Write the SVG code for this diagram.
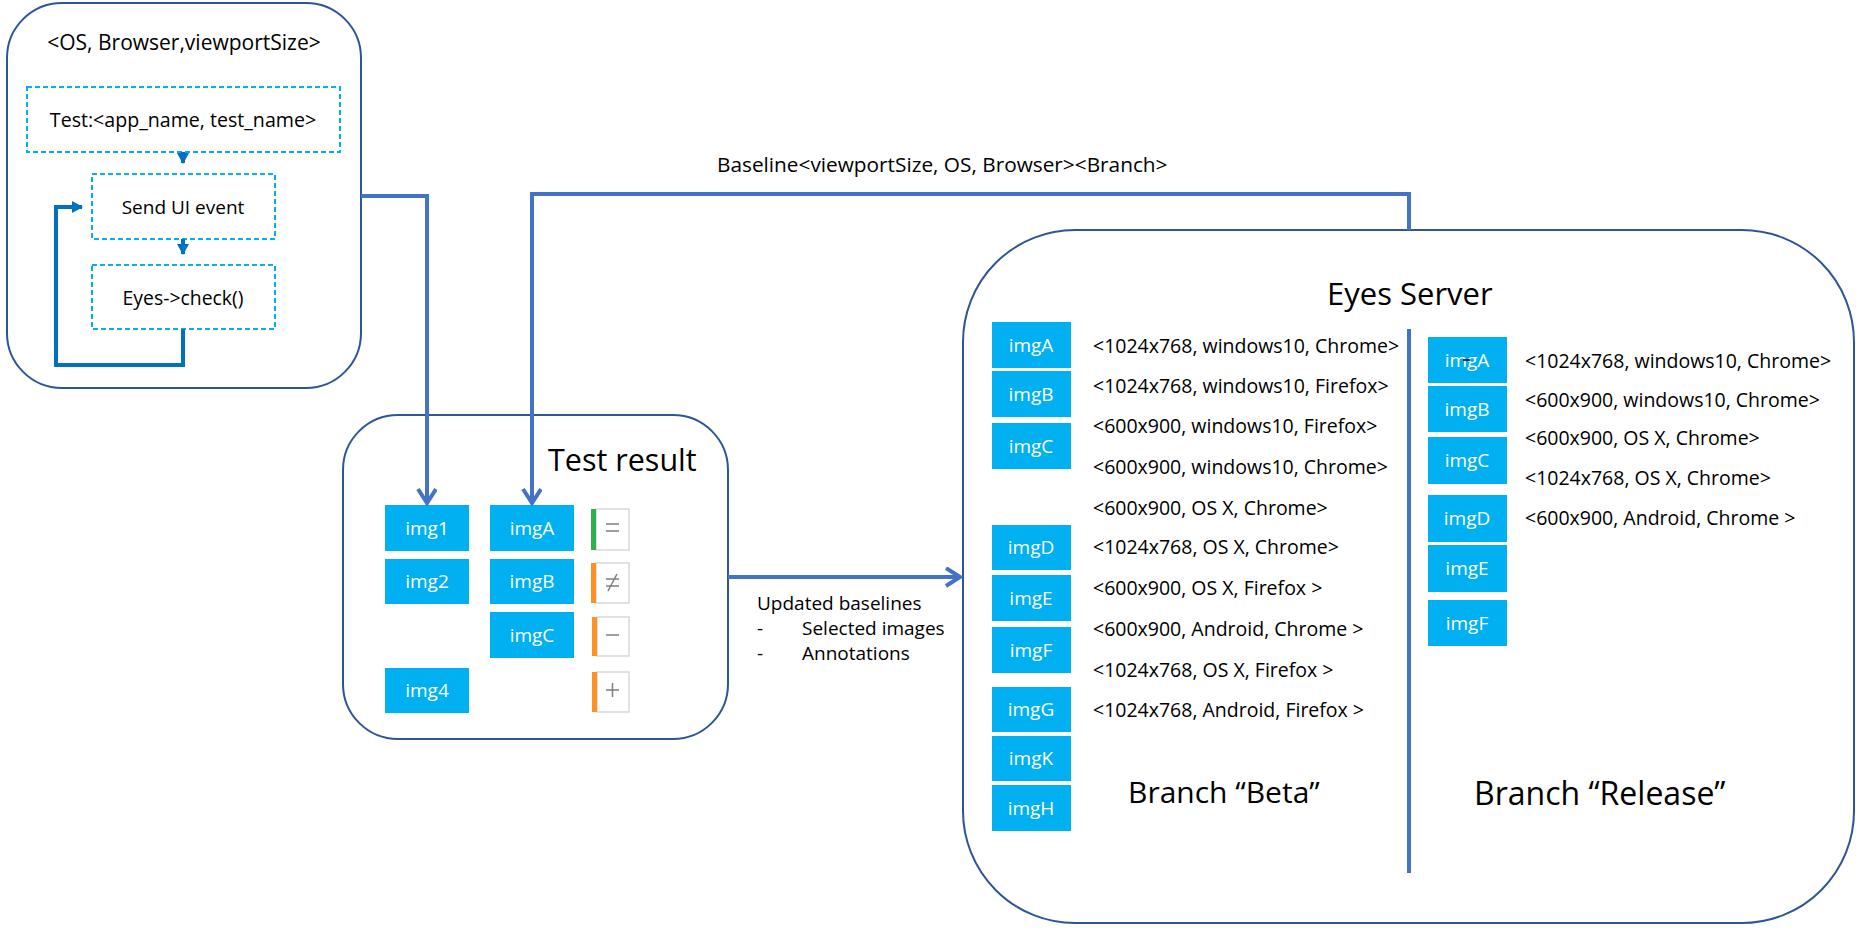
<svg xmlns="http://www.w3.org/2000/svg" width="1866" height="934" viewBox="0 0 1866 934">
<defs>
<style>
text{font-family:"Open Sans","Noto Sans","Liberation Sans",sans-serif;fill:#000}
.frame{fill:#fff;stroke:#2F5597;stroke-width:2}
.dash{fill:#fff;stroke:#00B0F0;stroke-width:2;stroke-dasharray:5 3}
.img{fill:#00B0F0}
.imgt{fill:#fff;font-size:19px;text-anchor:middle}
.lt{font-size:19.5px}
.ub{font-size:19px}
.conn{fill:none;stroke:#4472C4;stroke-width:4}
.loop{fill:none;stroke:#0070C0;stroke-width:4}
.sbox{fill:#fff;stroke:#D9D9D9;stroke-width:1.5}
.sym{stroke:#7F7F7F;stroke-width:1.5;fill:none}
</style>
<marker id="vArrow" markerUnits="userSpaceOnUse" markerWidth="24" markerHeight="24" refX="16" refY="10" orient="auto">
<path d="M2,1 L16,10 L2,19" fill="none" stroke="#4472C4" stroke-width="4"/>
</marker>
<marker id="tri" markerUnits="userSpaceOnUse" markerWidth="14" markerHeight="14" refX="10" refY="6" orient="auto">
<path d="M0,0 L11,6 L0,12 Z" fill="#0070C0"/>
</marker>
</defs>
<rect width="1866" height="934" fill="#fff"/>

<g id="client">
<rect class="frame" x="7" y="3" width="354" height="385" rx="55" ry="55"/>
<text x="184" y="50" font-size="21" text-anchor="middle">&lt;OS, Browser,viewportSize&gt;</text>
</g>
<g id="test-node">
<rect class="dash" x="27" y="87" width="313" height="65"/>
<text x="183" y="127" font-size="19.6" text-anchor="middle">Test:&lt;app_name, test_name&gt;</text>
</g>
<g id="send-ui-event">
<rect class="dash" x="92" y="174" width="183" height="65"/>
<text x="183" y="214" font-size="19" text-anchor="middle">Send UI event</text>
</g>
<g id="eyes-check">
<rect class="dash" x="92" y="265" width="183" height="64"/>
<text x="183" y="305" font-size="19.4" text-anchor="middle">Eyes-&gt;check()</text>
</g>

<g id="test-result">
<rect class="frame" x="343" y="415" width="385" height="324" rx="55" ry="55"/>
<text x="548" y="471" font-size="30.5">Test result</text>
<rect class="img" x="385" y="505" width="84" height="46"/><text class="imgt" x="427" y="535">img1</text>
<rect class="img" x="385" y="559" width="84" height="45"/><text class="imgt" x="427" y="588">img2</text>
<rect class="img" x="385" y="668" width="84" height="45"/><text class="imgt" x="427" y="697">img4</text>
<rect class="img" x="490" y="505" width="84" height="46"/><text class="imgt" x="532" y="535">imgA</text>
<rect class="img" x="490" y="559" width="84" height="45"/><text class="imgt" x="532" y="588">imgB</text>
<rect class="img" x="490" y="612" width="84" height="46"/><text class="imgt" x="532" y="642">imgC</text>
<rect class="sbox" x="596" y="509" width="33" height="41"/><rect x="591" y="509" width="5" height="41" fill="#2EB04E"/>
<path class="sym" d="M606,524 H619 M606,531 H619"/>
<rect class="sbox" x="596" y="563" width="33" height="40"/><rect x="591" y="563" width="5" height="40" fill="#FF9124"/>
<path class="sym" d="M606,579 H619 M606,586 H619 M617,574 L608,591"/>
<rect class="sbox" x="597" y="617" width="32" height="39"/><rect x="592" y="617" width="5" height="39" fill="#FF9124"/>
<path class="sym" d="M606,635 H619"/>
<rect class="sbox" x="597" y="672" width="32" height="40"/><rect x="592" y="672" width="5" height="40" fill="#FF9124"/>
<path class="sym" d="M606,690 H619 M612.5,683 V697"/>
</g>

<g id="eyes-server">
<rect class="frame" x="963" y="230" width="891" height="693" rx="112" ry="112"/>
<text x="1327" y="305" font-size="31">Eyes Server</text>
<rect x="1407" y="329" width="4" height="544" fill="#4472C4"/>
<g id="branch-beta">
<rect class="img" x="992" y="322" width="79" height="46"/><text class="imgt" x="1031" y="352">imgA</text>
<rect class="img" x="992" y="371" width="79" height="46"/><text class="imgt" x="1031" y="401">imgB</text>
<rect class="img" x="992" y="423" width="79" height="46"/><text class="imgt" x="1031" y="453">imgC</text>
<rect class="img" x="992" y="525" width="79" height="45"/><text class="imgt" x="1031" y="554">imgD</text>
<rect class="img" x="992" y="575" width="79" height="46"/><text class="imgt" x="1031" y="605">imgE</text>
<rect class="img" x="992" y="627" width="79" height="46"/><text class="imgt" x="1031" y="657">imgF</text>
<rect class="img" x="992" y="687" width="79" height="45"/><text class="imgt" x="1031" y="716">imgG</text>
<rect class="img" x="992" y="736" width="79" height="45"/><text class="imgt" x="1031" y="765">imgK</text>
<rect class="img" x="992" y="785" width="79" height="46"/><text class="imgt" x="1031" y="815">imgH</text>
<text class="lt" x="1093" y="353">&lt;1024x768, windows10, Chrome&gt;</text>
<text class="lt" x="1093" y="393">&lt;1024x768, windows10, Firefox&gt;</text>
<text class="lt" x="1093" y="433">&lt;600x900, windows10, Firefox&gt;</text>
<text class="lt" x="1093" y="474">&lt;600x900, windows10, Chrome&gt;</text>
<text class="lt" x="1093" y="515">&lt;600x900, OS X, Chrome&gt;</text>
<text class="lt" x="1093" y="554">&lt;1024x768, OS X, Chrome&gt;</text>
<text class="lt" x="1093" y="595">&lt;600x900, OS X, Firefox &gt;</text>
<text class="lt" x="1093" y="636">&lt;600x900, Android, Chrome &gt;</text>
<text class="lt" x="1093" y="677">&lt;1024x768, OS X, Firefox &gt;</text>
<text class="lt" x="1093" y="717">&lt;1024x768, Android, Firefox &gt;</text>
<text x="1128" y="803" font-size="30">Branch “Beta”</text>
</g>
<g id="branch-release">
<rect class="img" x="1428" y="337" width="79" height="46"/><text class="imgt" x="1467" y="367">imgA</text>
<line x1="1463" y1="360" x2="1470" y2="360" stroke="#000" stroke-width="1.5"/>
<rect class="img" x="1428" y="386" width="79" height="46"/><text class="imgt" x="1467" y="416">imgB</text>
<rect class="img" x="1428" y="437" width="79" height="47"/><text class="imgt" x="1467" y="467">imgC</text>
<rect class="img" x="1428" y="495" width="79" height="47"/><text class="imgt" x="1467" y="525">imgD</text>
<rect class="img" x="1428" y="545" width="79" height="47"/><text class="imgt" x="1467" y="575">imgE</text>
<rect class="img" x="1428" y="600" width="79" height="46"/><text class="imgt" x="1467" y="630">imgF</text>
<text class="lt" x="1525" y="368">&lt;1024x768, windows10, Chrome&gt;</text>
<text class="lt" x="1525" y="407">&lt;600x900, windows10, Chrome&gt;</text>
<text class="lt" x="1525" y="445">&lt;600x900, OS X, Chrome&gt;</text>
<text class="lt" x="1525" y="485">&lt;1024x768, OS X, Chrome&gt;</text>
<text class="lt" x="1525" y="525">&lt;600x900, Android, Chrome &gt;</text>
<text x="1474" y="805" font-size="32">Branch “Release”</text>
</g>
</g>

<g id="connectors">
<path class="loop" d="M183,152 V163" marker-end="url(#tri)"/>
<path class="loop" d="M183,239 V254" marker-end="url(#tri)"/>
<path class="loop" d="M183,329 V365 H56 V207 H82" marker-end="url(#tri)"/>
<path class="conn" d="M361,196 H427 V503" marker-end="url(#vArrow)"/>
<path class="conn" d="M1409,230 V194 H532 V503" marker-end="url(#vArrow)"/>
<path class="conn" d="M728,577 H960" marker-end="url(#vArrow)"/>
<text x="717" y="172" font-size="20.8">Baseline&lt;viewportSize, OS, Browser&gt;&lt;Branch&gt;</text>
<text class="ub" x="757" y="610">Updated baselines</text>
<text class="ub" x="757" y="635">-</text>
<text class="ub" x="802" y="635">Selected images</text>
<text class="ub" x="757" y="660">-</text>
<text class="ub" x="802" y="660">Annotations</text>
</g>
</svg>
